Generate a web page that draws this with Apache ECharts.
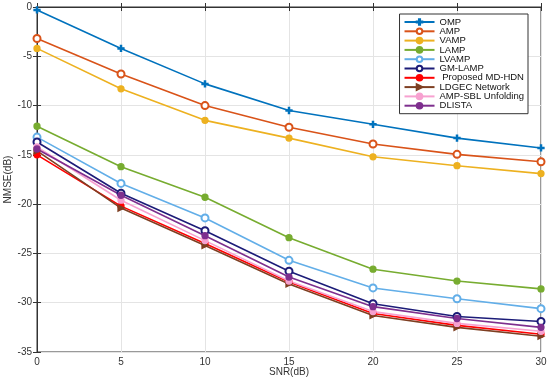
<!DOCTYPE html>
<html><head><meta charset="utf-8">
<script src="https://cdn.jsdelivr.net/npm/echarts@6/dist/echarts.min.js"></script>
<style>html,body{margin:0;padding:0;background:#fff}#c{width:550px;height:380px}</style>
</head><body><div id="c"></div>
<script>
const snr = [0, 5, 10, 15, 20, 25, 30];
const xTicks = [0, 5, 10, 15, 20, 25, 30];
const yTicks = [0, -5, -10, -15, -20, -25, -30, -35];
const names = ['OMP','AMP','VAMP','LAMP','LVAMP','GM-LAMP',' Proposed MD-HDN','LDGEC Network','AMP-SBL Unfolding','DLISTA'];
const omp    = [-0.3, -4.2, -7.8, -10.5, -11.9, -13.3, -14.3];
const amp    = [-3.2, -6.8, -10.0, -12.2, -13.9, -14.95, -15.7];
const vamp   = [-4.2, -8.3, -11.5, -13.3, -15.2, -16.1, -16.9];
const lamp   = [-12.1, -16.2, -19.3, -23.4, -26.6, -27.8, -28.6];
const lvamp  = [-13.2, -17.9, -21.4, -25.7, -28.5, -29.6, -30.6];
const gmlamp = [-13.7, -18.9, -22.7, -26.8, -30.1, -31.4, -31.9];
const mdhdn  = [-15.0, -20.2, -24.0, -27.9, -31.1, -32.3, -33.2];
const ldgec  = [-14.6, -20.4, -24.2, -28.1, -31.3, -32.5, -33.4];
const ampsbl = [-14.2, -19.6, -23.7, -27.8, -30.9, -32.1, -32.9];
const dlista = [-14.4, -19.1, -23.2, -27.4, -30.4, -31.6, -32.5];

const plus = 'path://M4,0h2v4h4v2h-4v4h-2v-4h-4v-2h4z';
const cfg = [
  [omp,   '#0072BD', plus, 6],
  [amp,   '#D95319', 'emptyCircle', 7],
  [vamp,  '#EDB120', 'circle', 6],
  [lamp,  '#77AC30', 'circle', 6],
  [lvamp, '#62aee8', 'emptyCircle', 7],
  [gmlamp,'#1c1c78', 'emptyCircle', 7],
  [mdhdn, '#FF0000', 'circle', 6],
  [ldgec, '#7e3f22', 'triangle', 6],
  [ampsbl,'#f7a1d0', 'circle', 6],
  [dlista,'#7E2F8E', 'circle', 6]
];
const series = cfg.map((c, i) => ({
  name: names[i], type: 'line',
  data: snr.map((x, k) => [x, c[0][k]]),
  symbol: c[2], symbolSize: c[3], symbolRotate: c[2]==='triangle' ? -90 : 0,
  showSymbol: true,
  lineStyle: {color: c[1], width: 1.6},
  itemStyle: {color: c[1], borderColor: c[1], borderWidth: 1.3},
  emphasis: {disabled: true}, animation: false
}));

const chart = echarts.init(document.getElementById('c'));
const axisLbl = {color: '#333', fontSize: 10, fontFamily: 'Liberation Sans, Arial'};
chart.setOption({
  animation: false,
  grid: {left: 37, right: 9, top: 7, bottom: 28, show: true, borderColor: '#333', borderWidth: 1,
         containLabel: false, outerBoundsMode: 'none'},
  legend: {
    data: names, orient: 'vertical', right: 22, top: 14,
    backgroundColor: '#fff', borderColor: '#333', borderWidth: 1,
    padding: [3, 4, 3, 4], itemGap: -0.7, itemWidth: 30, itemHeight: 7,
    textStyle: {fontSize: 9.5, lineHeight: 9, color: '#111', fontFamily: 'Liberation Sans, Arial'}
  },
  xAxis: [{
    type: 'value', min: 0, max: 30, interval: 5,
    name: 'SNR(dB)', nameLocation: 'middle', nameGap: 15, nameMoveOverlap: false,
    nameTextStyle: {color: '#333', fontSize: 10, fontFamily: 'Liberation Sans, Arial'},
    axisLine: {lineStyle: {color: '#333'}},
    axisTick: {inside: true, length: 4, lineStyle: {color: '#333'}},
    axisLabel: Object.assign({margin: 5}, axisLbl),
    splitLine: {show: true, lineStyle: {color: '#e4e4e4'}}
  }, {
    type: 'value', min: 0, max: 30, interval: 5, position: 'top',
    axisLine: {lineStyle: {color: '#333'}},
    axisTick: {inside: true, length: 4, lineStyle: {color: '#333'}},
    axisLabel: {show: false}, splitLine: {show: false}
  }],
  yAxis: [{
    type: 'value', min: -35, max: 0, interval: 5,
    name: 'NMSE(dB)', nameLocation: 'middle', nameGap: 24, nameMoveOverlap: false,
    nameTextStyle: {color: '#333', fontSize: 10, fontFamily: 'Liberation Sans, Arial'},
    axisLine: {lineStyle: {color: '#333'}},
    axisTick: {inside: true, length: 4, lineStyle: {color: '#333'}},
    axisLabel: Object.assign({margin: 5}, axisLbl),
    splitLine: {show: true, lineStyle: {color: '#e4e4e4'}}
  }, {
    type: 'value', min: -35, max: 0, interval: 5, position: 'right',
    axisLine: {lineStyle: {color: '#333'}},
    axisTick: {inside: true, length: 4, lineStyle: {color: '#333'}},
    axisLabel: {show: false}, splitLine: {show: false}
  }],
  series: series
});
</script></body></html>
